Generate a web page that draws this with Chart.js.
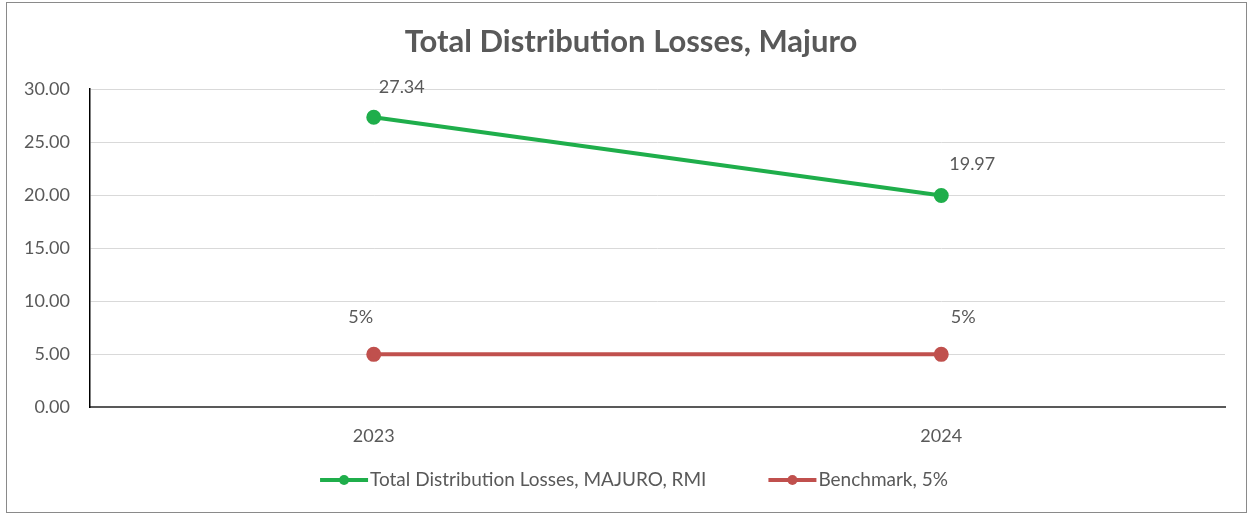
<!DOCTYPE html>
<html>
<head>
<meta charset="utf-8">
<script src="https://cdn.jsdelivr.net/npm/chart.js@4.4.1/dist/chart.umd.min.js"></script>
<style>
  html, body { margin: 0; padding: 0; background: #fff; }
  .wrap { position: relative; width: 1250px; height: 514px; }
  .frame { position: absolute; left: 6px; top: 2px; width: 1239px; height: 509px; border: 1px solid #8a8a8a; pointer-events: none; }
  canvas { position: absolute; left: 0; top: 0; }
</style>
</head>
<body>
<div class="wrap">
  <canvas id="loss-chart" width="1250" height="514"></canvas>
  <div class="frame"></div>
</div>
<script>
const chartTitle = "Total Distribution Losses, Majuro";
const years = ["2023", "2024"];
const majuroLosses = [27.34, 19.97];
const benchmark = [5, 5];
const benchmarkLabels = ["5%", "5%"];
const yTicks = [0, 5, 10, 15, 20, 25, 30];

const GREEN = "#1fae4b";
const RED = "#c0504d";
const TEXT = "#595959";

// title sits centred on the frame, not on the plot box
const frameTitle = {
  id: "frameTitle",
  afterDraw(chart) {
    const ctx = chart.ctx;
    ctx.save();
    ctx.font = "bold 31px Lato";
    ctx.fillStyle = TEXT;
    ctx.textAlign = "center";
    ctx.textBaseline = "middle";
    ctx.fillText(chartTitle, 631, 42);
    ctx.restore();
  },
};

// point value labels, offset from each point
const valueLabels = {
  id: "valueLabels",
  afterDatasetsDraw(chart) {
    const ctx = chart.ctx;
    ctx.save();
    ctx.font = "18px Lato";
    ctx.fillStyle = TEXT;
    ctx.textAlign = "center";
    ctx.textBaseline = "middle";
    chart.data.datasets.forEach((ds, i) => {
      const meta = chart.getDatasetMeta(i);
      meta.data.forEach((pt, j) => {
        const off = ds.labelOffsets[j];
        ctx.fillText(ds.labelTexts[j], pt.x + off[0], pt.y + off[1]);
      });
    });
    ctx.restore();
  },
};

// legend drawn by hand: line + dot marker, text right after it
const lineLegend = {
  id: "lineLegend",
  afterDraw(chart) {
    const ctx = chart.ctx;
    const y = 480;
    const markW = 48;
    const gap = 62;
    ctx.save();
    ctx.font = "19px Lato";
    ctx.textBaseline = "middle";
    const items = chart.data.datasets.map((ds) => ({
      text: ds.label,
      color: ds.borderColor,
      w: markW + 2 + ctx.measureText(ds.label).width,
    }));
    const total = items.reduce((s, it) => s + it.w, 0) + gap * (items.length - 1);
    let x = (chart.width - total) / 2 + 9;
    items.forEach((it) => {
      ctx.strokeStyle = it.color;
      ctx.lineWidth = 4;
      ctx.beginPath();
      ctx.moveTo(x, y);
      ctx.lineTo(x + markW, y);
      ctx.stroke();
      ctx.fillStyle = it.color;
      ctx.beginPath();
      ctx.arc(x + markW / 2, y, 5, 0, Math.PI * 2);
      ctx.fill();
      ctx.fillStyle = TEXT;
      ctx.fillText(it.text, x + markW + 2, y);
      x += it.w + gap;
    });
    ctx.restore();
  },
};

const ctx = document.getElementById("loss-chart");

new Chart(ctx, {
  type: "line",
  data: {
    labels: years,
    datasets: [
      {
        label: "Total Distribution Losses, MAJURO, RMI",
        data: majuroLosses,
        borderColor: GREEN,
        backgroundColor: GREEN,
        borderWidth: 4,
        pointRadius: 5.5,
        pointHoverRadius: 5.5,
        labelTexts: majuroLosses.map((v) => v.toFixed(2)),
        labelOffsets: [[28, -30], [31, -31]],
      },
      {
        label: "Benchmark, 5%",
        data: benchmark,
        borderColor: RED,
        backgroundColor: RED,
        borderWidth: 4,
        pointRadius: 5.5,
        pointHoverRadius: 5.5,
        labelTexts: benchmarkLabels,
        labelOffsets: [[-13, -37], [22, -37]],
      },
    ],
  },
  options: {
    responsive: false,
    animation: false,
    layout: { padding: { left: 0, right: 25, top: 89, bottom: 49 } },
    plugins: {
      title: { display: false },
      legend: { display: false },
      tooltip: { enabled: false },
    },
    scales: {
      x: {
        offset: true,
        grid: { display: false, drawTicks: false },
        border: { display: true, color: "#595959", width: 2 },
        ticks: { color: TEXT, font: { family: "Lato", size: 18 }, padding: 18 },
      },
      y: {
        min: 0,
        max: 30,
        afterFit(scale) { scale.width = 90; },
        afterBuildTicks(scale) { scale.ticks = yTicks.map((v) => ({ value: v })); },
        grid: { color: "#d9d9d9", lineWidth: 1, drawTicks: false },
        border: { display: true, color: "#000", width: 1.5 },
        ticks: {
          color: TEXT,
          font: { family: "Lato", size: 18 },
          padding: 20,
          callback: (v) => Number(v).toFixed(2),
        },
      },
    },
  },
  plugins: [frameTitle, valueLabels, lineLegend],
});
</script>
</body>
</html>
